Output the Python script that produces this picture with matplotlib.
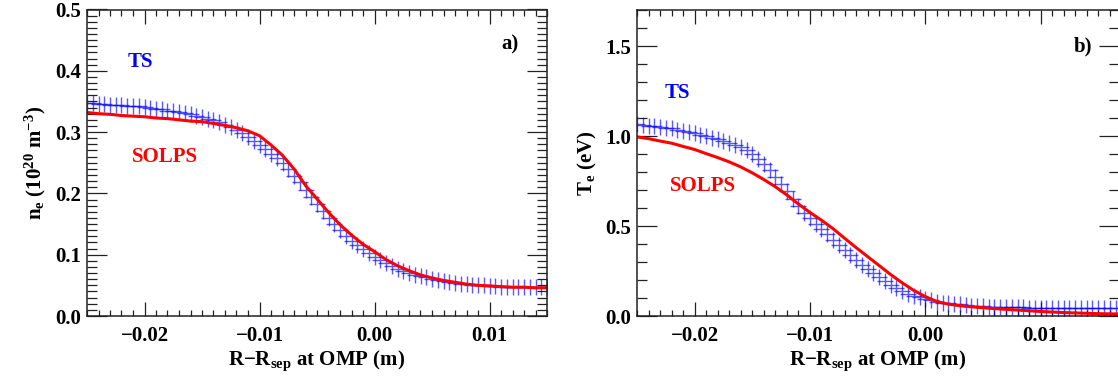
import numpy as np
import matplotlib
matplotlib.use('Agg')
from matplotlib import pyplot as plt
from matplotlib.ticker import MultipleLocator, FormatStrFormatter, FuncFormatter

plt.rcParams['font.family'] = 'Liberation Serif'
plt.rcParams['font.weight'] = 'bold'
plt.rcParams['mathtext.fontset'] = 'custom'
plt.rcParams['mathtext.rm'] = 'Liberation Serif:bold'
plt.rcParams['mathtext.it'] = 'Liberation Serif:bold'
plt.rcParams['mathtext.bf'] = 'Liberation Serif:bold'

# ---- panel a: density ----
ts_x_a = np.arange(81) * 0.0005 - 0.025
ts_ne = [0.347, 0.347, 0.346, 0.346, 0.345, 0.345, 0.344, 0.343, 0.342, 0.342,
         0.341, 0.340, 0.338, 0.337, 0.335, 0.334, 0.332, 0.331, 0.329, 0.327,
         0.325, 0.322, 0.320, 0.316, 0.312, 0.308, 0.303, 0.298, 0.292, 0.286,
         0.279, 0.272, 0.265, 0.257, 0.249, 0.239, 0.229, 0.218, 0.206, 0.194,
         0.182, 0.171, 0.160, 0.150, 0.140, 0.131, 0.123, 0.116, 0.109, 0.103,
         0.097, 0.091, 0.086, 0.081, 0.077, 0.073, 0.070, 0.067, 0.065, 0.063,
         0.061, 0.059, 0.057, 0.056, 0.054, 0.053, 0.052, 0.051, 0.050, 0.050,
         0.049, 0.049, 0.048, 0.048, 0.048, 0.047, 0.047, 0.047, 0.047, 0.047,
         0.047]

solps_x_a = np.arange(41) * 0.001 - 0.025
solps_ne = [0.332, 0.330, 0.329, 0.327, 0.326, 0.325, 0.323, 0.322, 0.320, 0.318,
            0.317, 0.314, 0.311, 0.307, 0.302, 0.294, 0.279, 0.262, 0.240, 0.213,
            0.191, 0.169, 0.149, 0.132, 0.117, 0.105, 0.092, 0.082, 0.074, 0.067,
            0.062, 0.058, 0.055, 0.052, 0.050, 0.049, 0.048, 0.047, 0.047, 0.046,
            0.046]

# ---- panel b: temperature ----
ts_x_b = np.arange(84) * 0.0005 - 0.025
ts_te = [1.065, 1.062, 1.058, 1.054, 1.050, 1.046, 1.042, 1.036, 1.030, 1.023,
         1.016, 1.008, 1.000, 0.991, 0.982, 0.972, 0.962, 0.950, 0.938, 0.920,
         0.900, 0.875, 0.845, 0.810, 0.772, 0.733, 0.693, 0.652, 0.612, 0.575,
         0.542, 0.512, 0.483, 0.455, 0.425, 0.395, 0.365, 0.337, 0.310, 0.286,
         0.262, 0.238, 0.215, 0.193, 0.172, 0.154, 0.138, 0.124, 0.112, 0.103,
         0.095, 0.087, 0.080, 0.075, 0.071, 0.067, 0.064, 0.061, 0.058, 0.056,
         0.054, 0.052, 0.051, 0.050, 0.049, 0.049, 0.048, 0.048, 0.047, 0.047,
         0.047, 0.046, 0.046, 0.046, 0.046, 0.046, 0.046, 0.046, 0.046, 0.046,
         0.046, 0.046, 0.046, 0.046]

solps_x_b = np.arange(43) * 0.001 - 0.025
solps_te = [0.995, 0.985, 0.972, 0.960, 0.942, 0.925, 0.902, 0.880, 0.856, 0.828,
            0.795, 0.758, 0.718, 0.672, 0.622, 0.575, 0.532, 0.485, 0.432, 0.380,
            0.330, 0.280, 0.230, 0.184, 0.142, 0.108, 0.080, 0.066, 0.057, 0.051,
            0.046, 0.041, 0.037, 0.033, 0.029, 0.025, 0.022, 0.019, 0.017, 0.015,
            0.013, 0.012, 0.011]

fig = plt.figure(figsize=(11.18, 3.85), dpi=100)
axa = fig.add_axes([87 / 1118, 1 - 316 / 385, 460 / 1118, 306.5 / 385])
axb = fig.add_axes([637 / 1118, 1 - 316 / 385, 482 / 1118, 306 / 385])

minus_fmt = FuncFormatter(lambda v, p: ('%.2f' % v).replace('-', '\u2212') if abs(v) > 1e-9 else '0.00')


def style(ax, ymaj, ymin):
    ax.xaxis.set_major_locator(MultipleLocator(0.01))
    ax.xaxis.set_minor_locator(MultipleLocator(0.001))
    ax.yaxis.set_major_locator(MultipleLocator(ymaj))
    ax.yaxis.set_minor_locator(MultipleLocator(ymin))
    ax.xaxis.set_major_formatter(minus_fmt)
    ax.yaxis.set_major_formatter(FormatStrFormatter('%.1f'))
    ax.tick_params(which='both', direction='in', top=True, right=True,
                   width=0.9, colors='#222222', labelcolor='black', labelsize=15)
    ax.tick_params(axis='x', which='major', length=10, pad=7)
    ax.tick_params(axis='x', which='minor', length=4.5)
    ax.tick_params(axis='y', which='major', length=14.5, pad=4)
    ax.tick_params(axis='y', which='minor', length=7)
    for s in ax.spines.values():
        s.set_linewidth(1.1)
        s.set_color('#222222')
    ax.set_xlabel(r'R$-$R$_{\rm sep}$ at OMP (m)', fontsize=15, fontweight='bold', labelpad=2)


axa.plot(ts_x_a, ts_ne, '+', color='blue', ms=11, mew=1.0, alpha=0.65)
axa.plot(solps_x_a, solps_ne, '-', color='red', lw=2.2)
axa.set_xlim(-0.025, 0.015)
axa.set_ylim(0.0, 0.5)
style(axa, 0.1, 0.01)
axa.set_ylabel(r'n$_{\rm e}$ (10$^{20}$ m$^{-3}$)', fontsize=15, fontweight='bold', labelpad=5)
axa.text(-0.0204, 0.415, 'TS', color='blue', fontsize=15, fontweight='bold', ha='center', va='center')
axa.text(-0.0182, 0.26, 'SOLPS', color='red', fontsize=15, fontweight='bold', ha='center', va='center')
axa.text(0.0118, 0.443, 'a)', color='black', fontsize=15, fontweight='bold', ha='center', va='center')

axb.plot(ts_x_b, ts_te, '+', color='blue', ms=12, mew=1.0, alpha=0.65)
axb.plot(solps_x_b, solps_te, '-', color='red', lw=2.2)
axb.set_xlim(-0.025, 0.0168)
axb.set_ylim(0.0, 1.7)
style(axb, 0.5, 0.1)
axb.set_ylabel(r'T$_{\rm e}$ (eV)', fontsize=15, fontweight='bold', labelpad=5)
axb.text(-0.0215, 1.24, 'TS', color='blue', fontsize=15, fontweight='bold', ha='center', va='center')
axb.text(-0.0193, 0.72, 'SOLPS', color='red', fontsize=15, fontweight='bold', ha='center', va='center')
axb.text(0.0137, 1.5, 'b)', color='black', fontsize=15, fontweight='bold', ha='center', va='center')

plt.savefig('out.png', dpi=100)
